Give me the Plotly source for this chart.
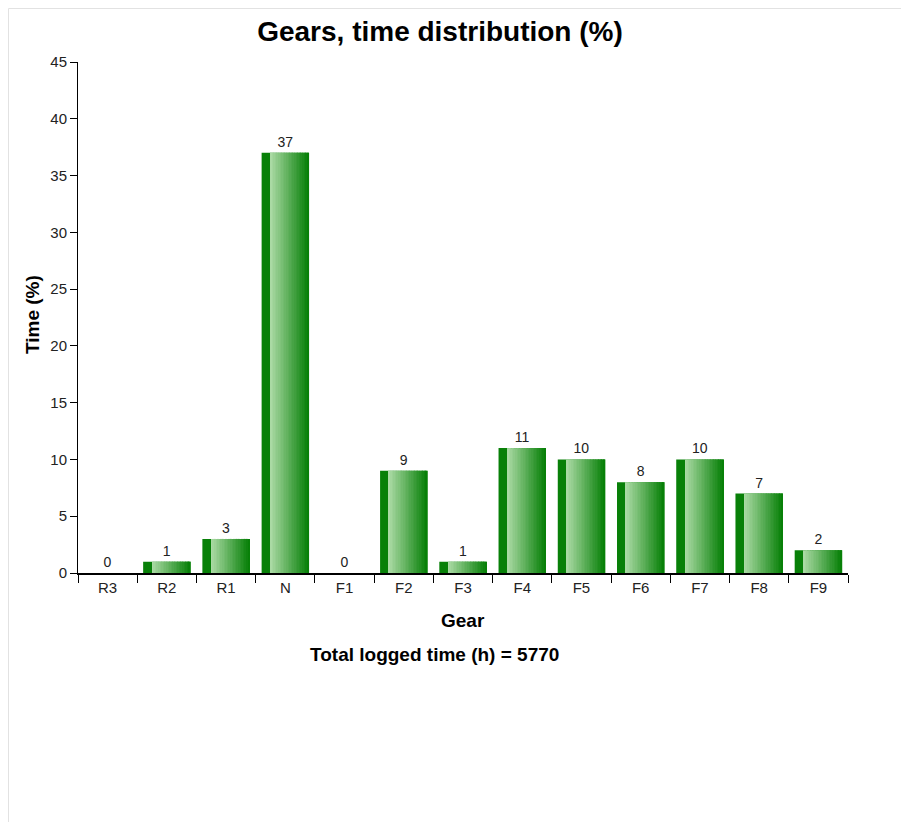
import plotly.graph_objects as go

gears = ["R3", "R2", "R1", "N", "F1", "F2", "F3", "F4", "F5", "F6", "F7", "F8", "F9"]
time_pct = [0, 1, 3, 37, 0, 9, 1, 11, 10, 8, 10, 7, 2]
y_ticks = [0, 5, 10, 15, 20, 25, 30, 35, 40, 45]
title_text = "Gears, time distribution (%)"
x_title = "Gear"
y_title = "Time (%)"
subtitle = "Total logged time (h) = 5770"

FONT = "Liberation Sans, Arial, sans-serif"
DARK = (8, 128, 8)
LIGHT = (170, 218, 164)

# page is offset by the 8px body margin
W, H = 901, 814
L, R, T, B = 70, 61, 54, 249
pw = W - L - R
ph = H - T - B


def px(xp):
    return (xp - L) / pw


def py(yp):
    return (H - B - yp) / ph


fig = go.Figure()

bar_w = 0.8
fig.add_trace(go.Bar(
    x=gears, y=time_pct, width=bar_w, offset=-bar_w / 2,
    marker=dict(color="rgb(%d,%d,%d)" % DARK, line=dict(width=0)),
    text=[str(v) for v in time_pct], textposition="outside",
    textfont=dict(family=FONT, size=14, color="#222"),
    cliponaxis=False, name="Time (%)",
))

n = 24
g0 = -bar_w / 2 + 0.15
g1 = bar_w / 2
sw = (g1 - g0) / n
for i in range(n):
    t = i / (n - 1)
    c = tuple(int(round(LIGHT[k] + (DARK[k] - LIGHT[k]) * t)) for k in range(3))
    fig.add_trace(go.Bar(
        x=gears, y=time_pct, width=sw * 1.05, offset=g0 + i * sw,
        marker=dict(color="rgb(%d,%d,%d)" % c, line=dict(width=0)),
        hoverinfo="skip", showlegend=False,
    ))

fig.update_layout(
    width=W, height=H,
    margin=dict(l=L, r=R, t=T, b=B),
    paper_bgcolor="white", plot_bgcolor="white",
    barmode="overlay", showlegend=False,
    font=dict(family=FONT, size=15, color="#222"),
    title=dict(text="<b>%s</b>" % title_text, font=dict(size=28, color="black", family=FONT),
               x=px(432), xref="paper", xanchor="center",
               y=1 - 23 / H, yref="container", yanchor="middle"),
    xaxis=dict(type="category", range=[-0.5, len(gears) - 0.5],
               showline=True, linecolor="black", linewidth=2,
               ticks="outside", ticklen=8, tickcolor="black", tickwidth=1,
               tickson="boundaries", showgrid=False, zeroline=False,
               tickfont=dict(size=15, color="#222")),
    yaxis=dict(range=[0, 45], tickvals=y_ticks,
               showline=True, linecolor="black", linewidth=1,
               ticks="outside", ticklen=7, tickcolor="black",
               showgrid=False, zeroline=False,
               tickfont=dict(size=15, color="#222")),
    shapes=[dict(type="rect", xref="paper", yref="paper",
                 x0=px(0.5), x1=px(W + 20),
                 y0=py(H + 20), y1=py(0.5),
                 line=dict(color="#e2e2e2", width=1), layer="below")],
    annotations=[
        dict(text="<b>%s</b>" % y_title, xref="paper", yref="paper",
             x=px(24), y=py(307), textangle=-90, showarrow=False,
             xanchor="center", yanchor="middle",
             font=dict(size=19, color="black", family=FONT)),
        dict(text="<b>%s</b>" % x_title, xref="paper", yref="paper",
             x=px(455), y=py(612), showarrow=False,
             xanchor="center", yanchor="middle",
             font=dict(size=19, color="black", family=FONT)),
        dict(text="<b>%s</b>" % subtitle, xref="paper", yref="paper",
             x=px(426), y=py(647), showarrow=False,
             xanchor="center", yanchor="middle",
             font=dict(size=19, color="black", family=FONT)),
    ],
)

fig.write_html("out.html")
